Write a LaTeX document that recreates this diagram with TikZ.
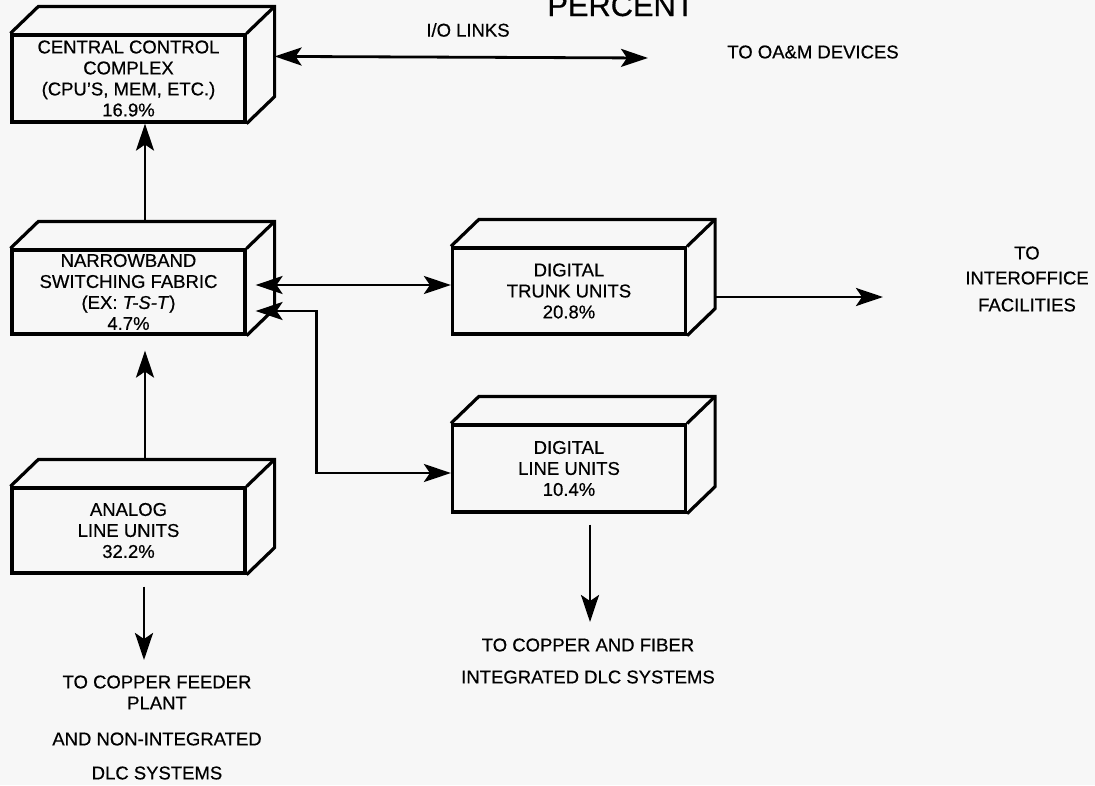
\documentclass[tikz,border=0pt]{standalone}
\usepackage{fontspec}
\setmainfont{Liberation Sans}[FakeBold=0.5]
\usetikzlibrary{arrows.meta,calc}
\definecolor{paper}{RGB}{247,247,247}
\newcommand\cubefaces[1]{%
  \draw[boxline] (#1.north west) -- ++(28,-27) -- ($(#1.north east)+(28,-27)$)
     -- ($(#1.south east)+(28,-27)$) -- (#1.south east);
  \draw[boxline] (#1.north east) -- ++(28,-27);}
\begin{document}
\begin{tikzpicture}[x=1pt,y=-1pt,
  boxline/.style={line width=3.2pt, line join=miter},
  cube/.style={draw, boxline, minimum width=233pt, inner sep=0pt, align=center,
     font=\fontsize{18.5}{21}\selectfont},
  lbl/.style={font=\fontsize{18.5}{21}\selectfont, inner sep=0pt, align=center},
  conn/.style={line width=2.8pt, -{Stealth[length=27pt,width=18pt,inset=6pt]}},
  conn2/.style={line width=2.8pt, {Stealth[length=27pt,width=18pt,inset=6pt]}-{Stealth[length=27pt,width=18pt,inset=6pt]}}]
\clip (0,0) rectangle (1095,785);
\fill[paper] (0,0) rectangle (1095,785);

% boxes
\node[cube, minimum height=87pt] (ccc) at (128.5,78.5) {CENTRAL CONTROL\\COMPLEX\\(CPU'S, MEM, ETC.)\\16.9\%};
\node[cube, minimum height=84pt] (nsf) at (128.5,292) {NARROWBAND\\SWITCHING FABRIC\\(EX: \textit{T-S-T})\\4.7\%};
\node[cube, minimum height=85pt] (alu) at (128.5,530.5) {ANALOG\\LINE UNITS\\32.2\%};
\node[cube, minimum height=86pt] (dtu) at (569,291) {DIGITAL\\TRUNK UNITS\\20.8\%};
\node[cube, minimum height=87pt] (dlu) at (569,468.5) {DIGITAL\\LINE UNITS\\10.4\%};
\cubefaces{ccc}
\cubefaces{nsf}
\cubefaces{alu}
\cubefaces{dtu}
\cubefaces{dlu}

% labels
\node[font=\fontsize{30.8}{34}\selectfont, inner sep=0pt, anchor=base] (pct) at (621,16) {PERCENT};
\node[lbl] (iol) at (468,30) {I/O LINKS};
\node[lbl] (oam) at (813,52) {TO OA\&M DEVICES};
\node[lbl] (to1) at (1027,253) {TO};
\node[lbl] (to2) at (1027,278) {INTEROFFICE};
\node[lbl] (to3) at (1027,305) {FACILITIES};
\node[lbl] (cf1) at (157,682) {TO COPPER FEEDER};
\node[lbl] (cf2) at (157,703) {PLANT};
\node[lbl] (cf3) at (157,739) {AND NON-INTEGRATED};
\node[lbl] (cf4) at (157,773) {DLC SYSTEMS};
\node[lbl] (fb1) at (588,645) {TO COPPER AND FIBER};
\node[lbl] (fb2) at (588,677) {INTEGRATED DLC SYSTEMS};

% free ends
\coordinate (ioend) at (648,58);
\coordinate (ioff) at (883,297);
\coordinate (feed) at (144,660);
\coordinate (fiber) at (590,622);

% connectors
\draw[conn2] ($(ccc.north east)+(28,23)$) -- (ioend);
\draw[conn] ($(nsf.north)+(16.5,-27)$) -- ($(ccc.south)+(16.5,0)$);
\draw[conn, shorten >=15pt] ($(alu.north)+(16.5,-27)$) -- ($(nsf.south)+(16.5,0)$);
\draw[conn] ($(alu.south)+(15.5,12)$) -- (feed);
\draw[conn2] ($(nsf.east)+(9,-7)$) -- ($(dtu.west)+(0,-6)$);
\draw[conn2] ($(nsf.east)+(9,19)$) -- ++(61,0) |- ($(dlu.west)+(0,4.5)$);
\draw[conn] ($(dtu.east)+(28,6)$) -- (ioff);
\draw[conn] ($(dlu.south)+(21,11)$) -- (fiber);
\end{tikzpicture}
\end{document}
